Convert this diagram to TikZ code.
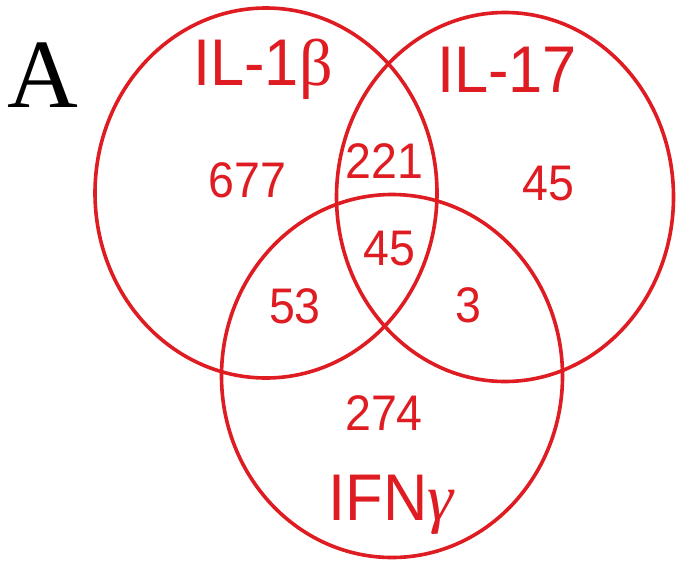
\documentclass[tikz,border=0pt]{standalone}
\usepackage{fontspec}
\setmainfont[FakeStretch=0.93]{Liberation Sans}
\newfontfamily\serifgreek{Liberation Serif}
\newfontfamily\serifpanel{Liberation Serif}
\usetikzlibrary{shapes.geometric}
\definecolor{vennred}{RGB}{222,28,34}
\begin{document}
\begin{tikzpicture}[x=1pt,y=-1pt,
  vring/.style={ellipse,draw=vennred,line width=3.6pt,inner sep=0pt},
  setlabel/.style={text=vennred,inner sep=0pt,anchor=base,font=\fontsize{66}{66}\selectfont},
  countlabel/.style={text=vennred,inner sep=0pt,anchor=base,font=\fontsize{50}{50}\selectfont},
  panellabel/.style={text=black,inner sep=0pt,anchor=base,font=\serifpanel\fontsize{98}{98}\selectfont}]
\fill[white] (0,0) rectangle (677,562);
\useasboundingbox (0,0) rectangle (677,562);
\node[vring,minimum width=342pt,minimum height=370pt] (il1b) at (266,193) {};
\node[vring,minimum width=337pt,minimum height=369pt] (il17) at (505,197) {};
\node[vring,minimum width=341pt,minimum height=363pt] (ifng) at (392,376) {};
\node[panellabel] (lblA) at (43,107) {A};
\node[setlabel] (tIL1b) at (263,85) {IL-1{\serifgreek β}};
\node[setlabel] (tIL17) at (507,92) {IL-17};
\node[setlabel] (tIFNg) at (391,520) {IFN{\serifgreek\itshape γ}};
\node[countlabel] (n677) at (247.5,197) {677};
\node[countlabel] (n221) at (384.5,178) {221};
\node[countlabel] (n45r) at (548,200) {45};
\node[countlabel] (n45c) at (389.5,265) {45};
\node[countlabel] (n53) at (295,323) {53};
\node[countlabel] (n3) at (468.5,322) {3};
\node[countlabel] (n274) at (384,430) {274};
\end{tikzpicture}
\end{document}
